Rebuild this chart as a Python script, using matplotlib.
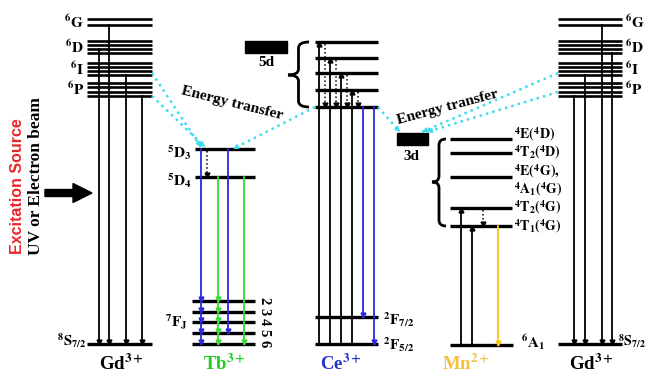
import matplotlib.pyplot as plt
from matplotlib.path import Path
from matplotlib.patches import PathPatch, FancyArrow, Rectangle

plt.rcParams['mathtext.fontset'] = 'stix'
plt.rcParams['font.family'] = 'Liberation Serif'

# level rows (pixel rows of the schematic, small = high energy)
gd_terms = ['6G', '6D', '6I', '6P']
gd_rows = [[19, 25], [41, 45, 49, 53], [63, 67, 71, 75], [83, 87, 92, 96]]
gd_ground = 344

tb_upper = [149, 177]                 # 5D3, 5D4
tb_7f = [301, 312, 322, 333, 344]     # 7F2 ... 7F6
tb_j = ['2', '3', '4', '5', '6']

ce_5d = [42, 58, 73, 90, 107]
ce_ground = [317, 344]                # 2F7/2, 2F5/2

mn_rows = [139, 153, 177, 208, 226]
mn_labels = [r'$^{\mathbf{4}}\mathbf{E(}^{\mathbf{4}}\mathbf{D)}$',
             r'$^{\mathbf{4}}\mathbf{T}_{\mathbf{2}}\mathbf{(}^{\mathbf{4}}\mathbf{D)}$',
             r'$^{\mathbf{4}}\mathbf{E(}^{\mathbf{4}}\mathbf{G),}$',
             r'$^{\mathbf{4}}\mathbf{A}_{\mathbf{1}}\mathbf{(}^{\mathbf{4}}\mathbf{G)}$',
             r'$^{\mathbf{4}}\mathbf{T}_{\mathbf{2}}\mathbf{(}^{\mathbf{4}}\mathbf{G)}$',
             r'$^{\mathbf{4}}\mathbf{T}_{\mathbf{1}}\mathbf{(}^{\mathbf{4}}\mathbf{G)}$']
mn_label_rows = [134, 152, 171, 189, 207, 226]
mn_ground = 345

ions = [r'Gd$^{\mathbf{3+}}$', r'Tb$^{\mathbf{3+}}$', r'Ce$^{\mathbf{3+}}$', r'Mn$^{\mathbf{2+}}$', r'Gd$^{\mathbf{3+}}$']
ion_x = [121, 224, 341, 466, 591]
ion_colors = ['black', '#22cc22', '#2233cc', '#f5c040', 'black']

BLUE = '#2a2ad8'
GREEN = '#33dd33'
YELLOW = '#f5c518'
CYAN = '#3fdcec'

fig = plt.figure(figsize=(6.47, 3.75), dpi=100)
ax = fig.add_axes([0, 0, 1, 1])
ax.set_xlim(0, 647)
ax.set_ylim(375, 0)
ax.axis('off')


def level(x0, x1, y, lw=2.4):
    ax.plot([x0, x1], [y, y], color='k', lw=lw, solid_capstyle='butt')


def vline(x, y0, y1, color='k', ls='-', lw=1.3, heads=(), up=False):
    ax.plot([x, x], [y0, y1], color=color, ls=ls, lw=lw)
    for h in heads:
        ax.plot(x, h - 2 if not up else h + 2, marker='^' if up else 'v',
                color=color, ms=3.5, mec=color)


def term(x, y, s, ha='right', size=11, **kw):
    ax.text(x, y, s, ha=ha, va='center', fontsize=size, fontweight='bold', **kw)


def brace(xl, xr, y0, y1, ym):
    xm = (xl + xr) / 2
    q = 6
    verts = [(xr, y0), (xm, y0), (xm, y0 + q), (xm, ym - q), (xm, ym), (xl, ym),
             (xm, ym), (xm, ym + q), (xm, y1 - q), (xm, y1), (xr, y1)]
    codes = [Path.MOVETO, Path.CURVE3, Path.CURVE3, Path.LINETO, Path.CURVE3, Path.CURVE3,
             Path.CURVE3, Path.CURVE3, Path.LINETO, Path.CURVE3, Path.CURVE3]
    ax.add_patch(PathPatch(Path(verts, codes), fill=False, lw=2, color='k'))


def transfer(p0, p1):
    ax.plot([p0[0], p1[0]], [p0[1], p1[1]], color=CYAN, ls=':', lw=1.8)
    dx, dy = p1[0] - p0[0], p1[1] - p0[1]
    n = (dx ** 2 + dy ** 2) ** 0.5
    ax.annotate('', xy=p1, xytext=(p1[0] - dx / n * 6, p1[1] - dy / n * 6),
                arrowprops=dict(arrowstyle='-|>', color=CYAN, lw=1, mutation_scale=7,
                                shrinkA=0, shrinkB=0))


# ---- Gd3+ (left and right) ----
for gx0, gx1, side in [(87, 152, 'L'), (558, 622, 'R')]:
    for t, rows in zip(gd_terms, gd_rows):
        for r in rows:
            level(gx0, gx1, r, lw=1.9)
        lab = r'$^{\mathbf{%s}}\mathbf{%s}$' % (t[0], t[1])
        if side == 'L':
            term(gx0 - 3, sum(rows) / len(rows), lab)
        else:
            term(gx1 + 3, sum(rows) / len(rows), lab, ha='left')
    level(gx0, gx1, gd_ground)
    g_lab = r'$^{\mathbf{8}}\mathbf{S}_{\mathbf{7/2}}$'
    if side == 'L':
        term(gx0 - 1, gd_ground - 3, g_lab, size=10.5)
        starts = [gd_rows[1][2], gd_rows[0][1], gd_rows[2][3], gd_rows[3][3]]
        xs = [99, 109, 126, 142]
    else:
        term(646, gd_ground - 3, g_lab, ha='right', size=10)
        starts = [gd_rows[3][3], gd_rows[2][3], gd_rows[0][1], gd_rows[1][3]]
        xs = [574, 585, 602, 612]
    for x, s in zip(xs, starts):
        vline(x, s, gd_ground, heads=[gd_ground])

# ---- Tb3+ ----
level(195, 255, tb_upper[0])
level(195, 255, tb_upper[1])
for r, j in zip(tb_7f, tb_j):
    level(192, 255, r)
    ax.text(264, r, j, rotation=-90, ha='center', va='center', fontsize=10.5, fontweight='bold')
term(192, tb_upper[0] + 4, r'$^{\mathbf{5}}\mathbf{D}_{\mathbf{3}}$')
term(192, tb_upper[1] + 4, r'$^{\mathbf{5}}\mathbf{D}_{\mathbf{4}}$')
term(188, tb_7f[2], r'$^{\mathbf{7}}\mathbf{F}_{\mathbf{J}}$')
vline(201, tb_upper[0], tb_7f[-1], color=BLUE, heads=tb_7f)
vline(218, tb_upper[1], tb_7f[-1], color=GREEN, heads=tb_7f)
vline(228, tb_upper[0], tb_7f[3], color=BLUE, heads=[tb_7f[3]])
vline(244, tb_upper[1], tb_7f[-1], color=GREEN, heads=[tb_7f[-1]])
vline(207, tb_upper[0] + 2, tb_upper[1], ls=':', lw=1.1, heads=[tb_upper[1]])

# ---- Ce3+ ----
ax.add_patch(Rectangle((245, 41), 42, 12, color='k'))
ax.text(266, 62, '5d', ha='center', va='center', fontsize=11, fontweight='bold')
for r in ce_5d:
    level(315, 378, r)
for r in ce_ground:
    level(315, 378, r)
brace(288, 309, ce_5d[0], ce_5d[-1], 75)
for x, r in zip([319, 330, 341, 352], ce_5d[:4]):
    vline(x, ce_ground[1], r, heads=[r], up=True)
for x, r in zip([325, 336, 347, 358], ce_5d[:4]):
    vline(x, r + 2, ce_5d[-1], ls=':', lw=1.1, heads=[ce_5d[-1]])
vline(363, ce_5d[-1], ce_ground[0], color=BLUE, heads=[ce_ground[0]])
vline(374, ce_5d[-1], ce_ground[1], color=BLUE, heads=[ce_ground[1]])
term(383, ce_ground[0] + 3, r'$^{\mathbf{2}}\mathbf{F}_{\mathbf{7/2}}$', ha='left')
term(383, ce_ground[1] + 1, r'$^{\mathbf{2}}\mathbf{F}_{\mathbf{5/2}}$', ha='left')

# ---- Mn2+ ----
ax.add_patch(Rectangle((397, 133), 31, 12, color='k'))
ax.text(411, 156, '3d', ha='center', va='center', fontsize=11, fontweight='bold')
for r in mn_rows:
    level(450, 512, r)
for r, lab in zip(mn_label_rows, mn_labels):
    term(514, r, lab, ha='left', size=10)
brace(432, 446, mn_rows[0], mn_rows[-1], 182)
level(450, 513, mn_ground)
term(521, mn_ground - 3, r'$^{\mathbf{6}}\mathbf{A}_{\mathbf{1}}$', ha='left')
vline(461, mn_ground, mn_rows[3], heads=[mn_rows[3]], up=True)
vline(472, mn_ground, mn_rows[4], heads=[mn_rows[4]], up=True)
vline(498, mn_rows[4], mn_ground, color=YELLOW, heads=[mn_ground])
vline(483, mn_rows[3] + 2, mn_rows[4], ls=':', lw=1.1, heads=[mn_rows[4]])

# ---- energy transfer ----
transfer((152, 73), (201, 147))
transfer((152, 96), (205, 147))
transfer((315, 107), (233, 149))
transfer((378, 107), (400, 132))
transfer((558, 73), (422, 132))
transfer((558, 92), (427, 132))
ax.text(232, 103, 'Energy transfer', rotation=-14, ha='center', va='center',
        fontsize=11, fontweight='bold')
ax.text(448, 107, 'Energy transfer', rotation=15, ha='center', va='center',
        fontsize=11, fontweight='bold')

# ---- excitation ----
ax.text(18, 186, 'Excitation Source', rotation=90, ha='center', va='center',
        fontsize=11.5, fontweight='bold', color='#e8262a', family='Liberation Sans')
ax.text(36, 176, 'UV or Electron beam', rotation=90, ha='center', va='center',
        fontsize=12.5, fontweight='bold')
ax.add_patch(FancyArrow(45, 193, 47, 0, width=7, head_width=19, head_length=19,
                        length_includes_head=True, color='k'))

for x, s, c in zip(ion_x, ions, ion_colors):
    ax.text(x, 364, s, ha='center', va='center', fontsize=13.5, fontweight='bold', color=c)

fig.savefig('out.png', dpi=100)
